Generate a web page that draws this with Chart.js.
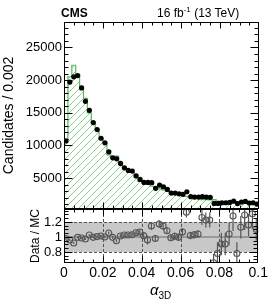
<!DOCTYPE html>
<html><head><meta charset="utf-8">
<script src="https://cdn.jsdelivr.net/npm/chart.js@4/dist/chart.umd.min.js"></script>
<style>
html,body{margin:0;padding:0;background:#fff;}
#wrap{position:relative;width:270px;height:300px;overflow:hidden;font-family:"Liberation Sans",Arial,Helvetica,sans-serif;}
canvas{position:absolute;left:0;}
#c1{top:0;}
#c2{top:189px;}
.t{position:absolute;white-space:nowrap;color:#000;line-height:1;}
</style></head><body>
<div id="wrap">
<canvas id="c1" width="270" height="222" style="width:270px;height:222px"></canvas>
<canvas id="c2" width="270" height="111" style="width:270px;height:111px"></canvas>
<div class="t" style="left:61px;top:7px;font-weight:bold;font-size:12px;">CMS</div>
<div class="t" style="left:157px;top:7px;font-size:12px;">16 fb<span style="font-size:8px;position:relative;top:-5px">-1</span> (13 TeV)</div>
<div class="t" style="left:150px;top:282px;font-size:15px;"><i>α</i><span style="font-size:10px;position:relative;top:4px">3D</span></div>
</div>
<script>
const binWidth = 0.002;
const dataCounts = [10700,19700,20500,20700,18800,16750,15380,13500,12430,11100,
  10400,9020,8100,7950,7240,6580,6170,6070,5350,4800,
  4340,4340,4300,3430,3930,3680,3270,2710,2710,2600,
  2510,2910,2150,2100,2100,2150,2100,2050,1130,1130,
  1230,1230,1280,1490,1100,1330,1430,1180,1230,1030];
const mcCounts = [10920,20520,22280,20800,19050,17210,14980,13570,12370,10960,
  10400,8570,8140,8370,7150,6410,6010,5890,5060,4500,
  4260,4520,3750,3500,3350,3210,3020,2740,2680,2610,
  2350,2190,2110,2040,2020,1710,1710,1670,1720,1450,
  1360,1360,1230,1160,1410,1180,1110,1020,940,940];
const ratioVals = [0.98,0.96,0.92,0.995,0.987,0.973,1.027,0.995,1.005,1.013,
  1.0,1.053,0.995,0.95,1.013,1.027,1.027,1.03,1.057,1.067,
  1.018,0.96,1.147,0.98,1.173,1.147,1.084,0.99,1.01,0.995,
  1.067,1.33,1.02,1.03,1.04,1.26,1.227,1.227,0.657,0.78,
  0.907,0.907,1.04,1.28,0.78,1.13,1.293,1.16,1.31,1.1];
const ratioErrs = [0.015,0.012,0.012,0.012,0.012,0.013,0.014,0.015,0.016,0.017,
  0.018,0.019,0.02,0.02,0.022,0.024,0.025,0.025,0.027,0.03,
  0.032,0.06,0.05,0.04,0.05,0.05,0.045,0.045,0.045,0.05,
  0.05,0.07,0.05,0.05,0.05,0.1,0.1,0.1,0.12,0.15,
  0.15,0.15,0.15,0.2,0.15,0.15,0.2,0.15,0.2,0.15];
const yTicksUpper = [5000,10000,15000,20000,25000];
const yMinorStepUpper = 1000;
const yRangeUpper = [270,28900];
const yTicksRatio = [0.8,1,1.2];
const yTickLabelsRatio = ['0.8','1','1.2'];
const yRangeRatio = [0.653,1.373];
const xTickVals = [0,0.02,0.04,0.06,0.08,0.1];
const xTickLabels = ['0','0.02','0.04','0.06','0.08','0.1'];
const xMinorStep = 0.005;
const bandRange = [0.8,1.2];

const FONT = '"Liberation Sans", Arial, Helvetica, sans-serif';

function hatchPattern(){
  const s = 7, c = document.createElement('canvas');
  c.width = s; c.height = s;
  const g = c.getContext('2d');
  g.strokeStyle = '#8ccf8c'; g.lineWidth = 1;
  g.beginPath();
  g.moveTo(0, s); g.lineTo(s, 0);
  g.moveTo(-1, 1); g.lineTo(1, -1);
  g.moveTo(s-1, s+1); g.lineTo(s+1, s-1);
  g.stroke();
  return g.createPattern(c, 'repeat');
}

function ticksList(min, max, step){
  const out = [];
  for (let v = Math.ceil(min/step - 1e-9)*step; v <= max + 1e-9; v += step) out.push(v);
  return out;
}

const framePlugin = {
  id: 'frameTicks',
  afterDraw(chart, args, o){
    const {ctx, chartArea:a, scales} = chart;
    const xs = scales.x, ys = scales.y;
    const L = Math.round(a.left)+0.5, R = Math.round(a.right)-0.5, T = Math.round(a.top)+0.5, B = Math.round(a.bottom)-0.5;
    ctx.save();
    ctx.strokeStyle = '#000'; ctx.lineWidth = 1;
    ctx.beginPath();
    o.yMinor.forEach(v => { const p = Math.round(ys.getPixelForValue(v))+0.5; if (p<T||p>B) return;
      ctx.moveTo(L,p); ctx.lineTo(L+o.minorLen,p); ctx.moveTo(R,p); ctx.lineTo(R-o.minorLen,p); });
    o.yMajor.forEach(v => { const p = Math.round(ys.getPixelForValue(v))+0.5; if (p<T||p>B) return;
      ctx.moveTo(L,p); ctx.lineTo(L+o.majorLen,p); ctx.moveTo(R,p); ctx.lineTo(R-o.majorLen,p); });
    o.xMinor.forEach(v => { const p = Math.round(xs.getPixelForValue(v))+0.5; if (p<L||p>R) return;
      ctx.moveTo(p,B); ctx.lineTo(p,B-o.xMinorLen); ctx.moveTo(p,T); ctx.lineTo(p,T+o.xMinorLen); });
    o.xMajor.forEach(v => { const p = Math.round(xs.getPixelForValue(v))+0.5; if (p<L||p>R) return;
      ctx.moveTo(p,B); ctx.lineTo(p,B-o.xMajorLen); ctx.moveTo(p,T); ctx.lineTo(p,T+o.xMajorLen); });
    ctx.stroke();
    ctx.strokeRect(L, T, R-L, B-T);
    ctx.restore();
  }
};

const ratioDecor = {
  id: 'ratioDecor',
  beforeDatasetsDraw(chart){
    const {ctx, chartArea:a, scales} = chart;
    const xs = scales.x, ys = scales.y;
    ctx.save();
    ctx.beginPath(); ctx.rect(a.left, a.top, a.right-a.left, a.bottom-a.top); ctx.clip();
    const yHi = ys.getPixelForValue(bandRange[1]), yLo = ys.getPixelForValue(bandRange[0]);
    ctx.fillStyle = '#c8c8c8';
    ctx.fillRect(a.left, yHi, a.right-a.left, yLo-yHi);
    ctx.strokeStyle = '#555'; ctx.lineWidth = 1; ctx.setLineDash([3,2]);
    ctx.beginPath();
    xTickVals.slice(1,-1).forEach(v => { const p = Math.round(xs.getPixelForValue(v))+0.5; ctx.moveTo(p,a.top); ctx.lineTo(p,a.bottom); });
    [bandRange[0], bandRange[1]].forEach(v => { const p = Math.round(ys.getPixelForValue(v))+0.5; ctx.moveTo(a.left,p); ctx.lineTo(a.right,p); });
    ctx.stroke();
    ctx.setLineDash([]);
    ctx.strokeStyle = '#888'; ctx.lineWidth = 1.5;
    ctx.beginPath();
    const p1 = ys.getPixelForValue(1);
    ctx.moveTo(a.left,p1); ctx.lineTo(a.right,p1); ctx.stroke();
    ctx.strokeStyle = '#555'; ctx.lineWidth = 1.2;
    ctx.beginPath();
    ratioVals.forEach((r,i) => {
      const x = xs.getPixelForValue((i+0.5)*binWidth);
      ctx.moveTo(x, ys.getPixelForValue(r+ratioErrs[i]));
      ctx.lineTo(x, ys.getPixelForValue(r-ratioErrs[i]));
    });
    ctx.stroke();
    ctx.restore();
  }
};

const mcPoints = mcCounts.map((v,i) => ({x: i*binWidth, y: v}));
mcPoints.push({x: mcCounts.length*binWidth, y: mcCounts[mcCounts.length-1]});
const dataPoints = dataCounts.map((v,i) => ({x: (i+0.5)*binWidth, y: v}));
const ratioPoints = ratioVals.map((v,i) => ({x: (i+0.5)*binWidth, y: v}));

new Chart(document.getElementById('c1'), {
  type: 'line',
  data: { datasets: [
    { data: mcPoints, stepped: 'before', borderColor: '#5cb85c', borderWidth: 1.2,
      backgroundColor: hatchPattern(), fill: 'start', pointRadius: 0, order: 2 },
    { data: dataPoints, showLine: false, pointRadius: 2.6, pointBackgroundColor: '#000',
      pointBorderColor: '#000', pointBorderWidth: 0, order: 1 }
  ]},
  options: {
    responsive: false, animation: false, events: [],
    layout: { padding: { top: 22, right: 11, bottom: 13, left: 0 } },
    plugins: { legend: { display: false }, tooltip: { enabled: false },
      frameTicks: { yMajor: yTicksUpper, yMinor: ticksList(yRangeUpper[0], yRangeUpper[1], yMinorStepUpper),
        xMajor: xTickVals, xMinor: ticksList(0, 0.1, xMinorStep), majorLen: 8, minorLen: 4, xMajorLen: 6, xMinorLen: 3 } },
    scales: {
      x: { type: 'linear', min: 0, max: 0.1, display: false },
      y: { type: 'linear', min: yRangeUpper[0], max: yRangeUpper[1],
        afterFit(s){ s.width = 64; },
        afterBuildTicks(s){ s.ticks = yTicksUpper.map(v => ({value: v})); },
        grid: { display: false, drawTicks: false }, border: { display: false },
        ticks: { color: '#000', padding: 2, font: { family: FONT, size: 13 }, callback: v => String(v) },
        title: { display: true, text: 'Candidates / 0.002', color: '#000', padding: { top: 1, bottom: 0 },
          font: { family: FONT, size: 14 } } }
    }
  },
  plugins: [framePlugin]
});

new Chart(document.getElementById('c2'), {
  type: 'line',
  data: { datasets: [
    { data: ratioPoints, showLine: false, pointRadius: 3, pointBackgroundColor: 'rgba(0,0,0,0)',
      pointBorderColor: '#555', pointBorderWidth: 1.1 }
  ]},
  options: {
    responsive: false, animation: false, events: [],
    layout: { padding: { top: 20, right: 11, bottom: 0, left: 28 } },
    plugins: { legend: { display: false }, tooltip: { enabled: false },
      frameTicks: { yMajor: yTicksRatio, yMinor: ticksList(0.7, 1.35, 0.05),
        xMajor: xTickVals, xMinor: ticksList(0, 0.1, xMinorStep), majorLen: 8, minorLen: 4, xMajorLen: 6, xMinorLen: 3 } },
    scales: {
      x: { type: 'linear', min: 0, max: 0.1,
        afterFit(s){ s.height = 37; },
        afterBuildTicks(s){ s.ticks = xTickVals.map(v => ({value: v})); },
        grid: { display: false, drawTicks: false }, border: { display: false },
        ticks: { color: '#000', padding: 2, maxRotation: 0, autoSkip: false,
          font: { family: FONT, size: 14 }, callback: (v,i) => xTickLabels[i] } },
      y: { type: 'linear', min: yRangeRatio[0], max: yRangeRatio[1],
        afterFit(s){ s.width = 36; },
        afterBuildTicks(s){ s.ticks = yTicksRatio.map(v => ({value: v})); },
        grid: { display: false, drawTicks: false }, border: { display: false },
        ticks: { color: '#000', padding: 2, font: { family: FONT, size: 13 },
          callback: (v,i) => yTickLabelsRatio[i] },
        title: { display: true, text: 'Data / MC', color: '#000', padding: { top: 0, bottom: 0 },
          font: { family: FONT, size: 12 } } }
    }
  },
  plugins: [framePlugin, ratioDecor]
});
</script>
</body></html>
